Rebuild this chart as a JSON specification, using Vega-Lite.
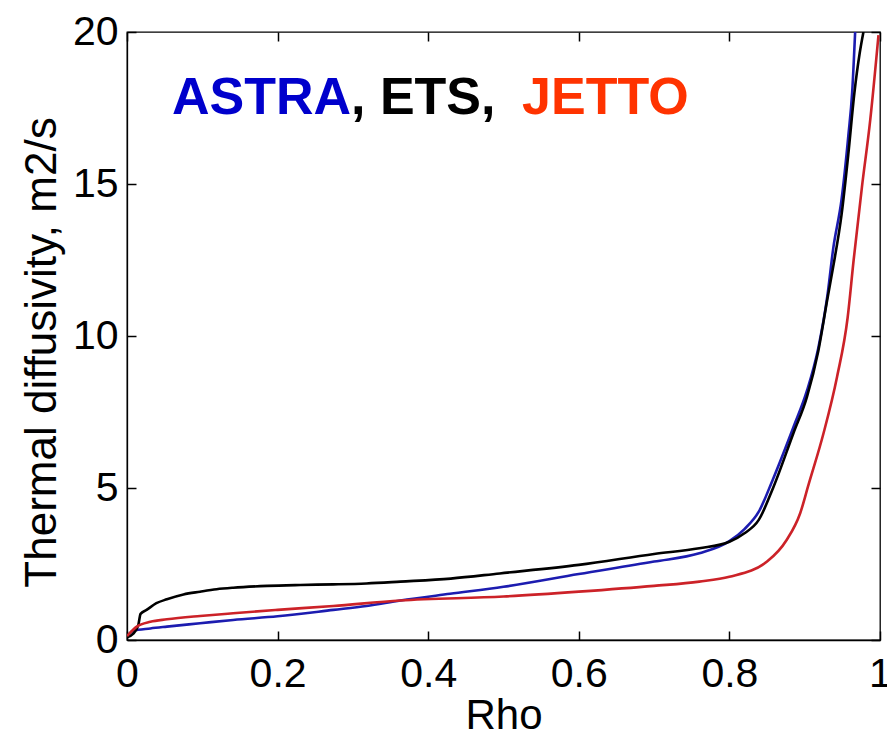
{
  "$schema": "https://vega.github.io/schema/vega-lite/v6.json",
  "width": 753,
  "height": 608,
  "autosize": {"type": "none"},
  "padding": {"left": 127, "top": 32, "right": 7, "bottom": 96},
  "background": "white",
  "config": {
    "view": {"stroke": "black", "strokeWidth": 1.3},
    "axis": {
      "grid": false,
      "domainColor": "black",
      "domainWidth": 1.3,
      "tickColor": "black",
      "tickWidth": 1.5,
      "tickSize": 9,
      "labelFont": "Liberation Sans",
      "labelFontSize": 41,
      "labelColor": "black",
      "labelFlush": false,
      "labelOverlap": false,
      "titleFont": "Liberation Sans",
      "titleFontWeight": "normal",
      "titleColor": "black"
    }
  },
  "datasets": {
    "curves": [
      {"code": "ASTRA", "rho": 0.0, "chi": 0.1},
      {"code": "ASTRA", "rho": 0.008, "chi": 0.3},
      {"code": "ASTRA", "rho": 0.031, "chi": 0.38},
      {"code": "ASTRA", "rho": 0.053, "chi": 0.44},
      {"code": "ASTRA", "rho": 0.097, "chi": 0.55},
      {"code": "ASTRA", "rho": 0.141, "chi": 0.66},
      {"code": "ASTRA", "rho": 0.2, "chi": 0.78},
      {"code": "ASTRA", "rho": 0.274, "chi": 0.99},
      {"code": "ASTRA", "rho": 0.318, "chi": 1.12},
      {"code": "ASTRA", "rho": 0.363, "chi": 1.3},
      {"code": "ASTRA", "rho": 0.429, "chi": 1.52},
      {"code": "ASTRA", "rho": 0.5, "chi": 1.75},
      {"code": "ASTRA", "rho": 0.6, "chi": 2.17},
      {"code": "ASTRA", "rho": 0.7, "chi": 2.58},
      {"code": "ASTRA", "rho": 0.76, "chi": 2.85},
      {"code": "ASTRA", "rho": 0.8, "chi": 3.25},
      {"code": "ASTRA", "rho": 0.82, "chi": 3.65},
      {"code": "ASTRA", "rho": 0.839, "chi": 4.22},
      {"code": "ASTRA", "rho": 0.858, "chi": 5.3},
      {"code": "ASTRA", "rho": 0.885, "chi": 7.0},
      {"code": "ASTRA", "rho": 0.903, "chi": 8.2},
      {"code": "ASTRA", "rho": 0.918, "chi": 9.6},
      {"code": "ASTRA", "rho": 0.93, "chi": 11.3},
      {"code": "ASTRA", "rho": 0.938, "chi": 12.9},
      {"code": "ASTRA", "rho": 0.949, "chi": 14.5},
      {"code": "ASTRA", "rho": 0.958, "chi": 16.6},
      {"code": "ASTRA", "rho": 0.963, "chi": 18.0},
      {"code": "ASTRA", "rho": 0.967, "chi": 20.0},
      {"code": "ETS", "rho": 0.0, "chi": 0.09},
      {"code": "ETS", "rho": 0.008, "chi": 0.2},
      {"code": "ETS", "rho": 0.015, "chi": 0.49},
      {"code": "ETS", "rho": 0.018, "chi": 0.86},
      {"code": "ETS", "rho": 0.026, "chi": 0.99},
      {"code": "ETS", "rho": 0.039, "chi": 1.21},
      {"code": "ETS", "rho": 0.053, "chi": 1.34},
      {"code": "ETS", "rho": 0.075, "chi": 1.5},
      {"code": "ETS", "rho": 0.097, "chi": 1.59},
      {"code": "ETS", "rho": 0.119, "chi": 1.67},
      {"code": "ETS", "rho": 0.141, "chi": 1.72},
      {"code": "ETS", "rho": 0.186, "chi": 1.78},
      {"code": "ETS", "rho": 0.23, "chi": 1.81},
      {"code": "ETS", "rho": 0.274, "chi": 1.83},
      {"code": "ETS", "rho": 0.318, "chi": 1.86},
      {"code": "ETS", "rho": 0.363, "chi": 1.92},
      {"code": "ETS", "rho": 0.43, "chi": 2.02},
      {"code": "ETS", "rho": 0.495, "chi": 2.19},
      {"code": "ETS", "rho": 0.6, "chi": 2.47},
      {"code": "ETS", "rho": 0.7, "chi": 2.83},
      {"code": "ETS", "rho": 0.76, "chi": 3.02},
      {"code": "ETS", "rho": 0.8, "chi": 3.23},
      {"code": "ETS", "rho": 0.82, "chi": 3.51},
      {"code": "ETS", "rho": 0.839, "chi": 3.95},
      {"code": "ETS", "rho": 0.858, "chi": 5.0},
      {"code": "ETS", "rho": 0.885, "chi": 6.8},
      {"code": "ETS", "rho": 0.903, "chi": 8.0},
      {"code": "ETS", "rho": 0.918, "chi": 9.5},
      {"code": "ETS", "rho": 0.93, "chi": 11.2},
      {"code": "ETS", "rho": 0.938, "chi": 12.3},
      {"code": "ETS", "rho": 0.949, "chi": 14.0},
      {"code": "ETS", "rho": 0.958, "chi": 16.0},
      {"code": "ETS", "rho": 0.966, "chi": 18.0},
      {"code": "ETS", "rho": 0.973, "chi": 19.3},
      {"code": "ETS", "rho": 0.978, "chi": 20.0},
      {"code": "JETTO", "rho": 0.0, "chi": 0.13},
      {"code": "JETTO", "rho": 0.013, "chi": 0.44},
      {"code": "JETTO", "rho": 0.031, "chi": 0.6},
      {"code": "JETTO", "rho": 0.053, "chi": 0.68},
      {"code": "JETTO", "rho": 0.097, "chi": 0.79},
      {"code": "JETTO", "rho": 0.141, "chi": 0.88},
      {"code": "JETTO", "rho": 0.2, "chi": 0.99},
      {"code": "JETTO", "rho": 0.274, "chi": 1.12},
      {"code": "JETTO", "rho": 0.363, "chi": 1.3},
      {"code": "JETTO", "rho": 0.5, "chi": 1.43},
      {"code": "JETTO", "rho": 0.6, "chi": 1.59},
      {"code": "JETTO", "rho": 0.7, "chi": 1.78},
      {"code": "JETTO", "rho": 0.76, "chi": 1.92},
      {"code": "JETTO", "rho": 0.8, "chi": 2.08},
      {"code": "JETTO", "rho": 0.85, "chi": 2.58},
      {"code": "JETTO", "rho": 0.876, "chi": 3.29},
      {"code": "JETTO", "rho": 0.894, "chi": 4.17},
      {"code": "JETTO", "rho": 0.905, "chi": 5.1},
      {"code": "JETTO", "rho": 0.925, "chi": 6.8},
      {"code": "JETTO", "rho": 0.943, "chi": 8.66},
      {"code": "JETTO", "rho": 0.957, "chi": 10.6},
      {"code": "JETTO", "rho": 0.965, "chi": 12.5},
      {"code": "JETTO", "rho": 0.976, "chi": 14.9},
      {"code": "JETTO", "rho": 0.987, "chi": 17.1},
      {"code": "JETTO", "rho": 0.998, "chi": 19.9}
    ],
    "labels": [
      {"code": "ASTRA", "text": "ASTRA", "x": 0.0598, "y": 17.3},
      {"code": "ETS", "text": ", ETS,", "x": 0.2975, "y": 17.3},
      {"code": "JETTO", "text": "JETTO", "x": 0.5246, "y": 17.3}
    ]
  },
  "layer": [
    {
      "data": {"name": "curves"},
      "mark": {"type": "line", "strokeWidth": 2.6, "clip": true, "interpolate": "monotone"},
      "encoding": {
        "x": {
          "field": "rho", "type": "quantitative",
          "scale": {"domain": [0, 1], "nice": false, "zero": false},
          "axis": {"orient": "bottom", "values": [0, 0.2, 0.4, 0.6, 0.8, 1], "format": "~g", "ticks": false, "labelPadding": 14, "title": "Rho", "titleFontSize": 42, "titlePadding": 1}
        },
        "y": {
          "field": "chi", "type": "quantitative",
          "scale": {"domain": [0, 20], "nice": false, "zero": false},
          "axis": {"orient": "left", "values": [0, 5, 10, 15, 20], "ticks": false, "labelPadding": 9, "title": "Thermal diffusivity, m2/s", "titleFontSize": 44, "titlePadding": 8, "titleY": 320}
        },
        "color": {
          "field": "code", "type": "nominal",
          "scale": {"domain": ["ASTRA", "ETS", "JETTO"], "range": ["#1c1cb0", "#000000", "#cc2228"]},
          "legend": null
        },
        "detail": {"field": "code"}
      }
    },
    {
      "data": {"name": "labels"},
      "transform": [{"filter": "datum.code !== 'JETTO'"}],
      "mark": {"type": "text", "font": "Liberation Sans", "fontWeight": "bold", "fontSize": 52, "align": "left", "baseline": "alphabetic"},
      "encoding": {
        "x": {
          "field": "x", "type": "quantitative",
          "scale": {"domain": [0, 1], "nice": false, "zero": false},
          "axis": {"orient": "top", "offset": -608, "values": [0, 0.2, 0.4, 0.6, 0.8, 1], "labels": false, "domain": false, "title": null}
        },
        "y": {
          "field": "y", "type": "quantitative",
          "scale": {"domain": [0, 20], "nice": false, "zero": false},
          "axis": {"orient": "right", "offset": -753, "values": [0, 5, 10, 15, 20], "labels": false, "domain": false, "title": null}
        },
        "text": {"field": "text"},
        "color": {
          "field": "code", "type": "nominal",
          "scale": {"domain": ["ASTRA", "ETS", "JETTO"], "range": ["#0000cc", "#000000", "#ff3300"]},
          "legend": null
        }
      }
    },
    {
      "data": {"name": "labels"},
      "transform": [{"filter": "datum.code === 'JETTO'"}],
      "mark": {"type": "text", "font": "Liberation Sans", "fontWeight": "bold", "fontSize": 52, "align": "left", "baseline": "alphabetic"},
      "encoding": {
        "x": {
          "field": "x", "type": "quantitative",
          "scale": {"domain": [0, 1], "nice": false, "zero": false},
          "axis": {"orient": "bottom", "offset": -608, "values": [0, 0.2, 0.4, 0.6, 0.8, 1], "labels": false, "domain": false, "title": null}
        },
        "y": {
          "field": "y", "type": "quantitative",
          "scale": {"domain": [0, 20], "nice": false, "zero": false},
          "axis": {"orient": "left", "offset": -753, "values": [0, 5, 10, 15, 20], "labels": false, "domain": false, "title": null}
        },
        "text": {"field": "text"},
        "color": {
          "field": "code", "type": "nominal",
          "scale": {"domain": ["ASTRA", "ETS", "JETTO"], "range": ["#0000cc", "#000000", "#ff3300"]},
          "legend": null
        }
      }
    }
  ],
  "resolve": {"scale": {"x": "independent", "y": "independent", "color": "independent"}, "axis": {"x": "independent", "y": "independent"}}
}
